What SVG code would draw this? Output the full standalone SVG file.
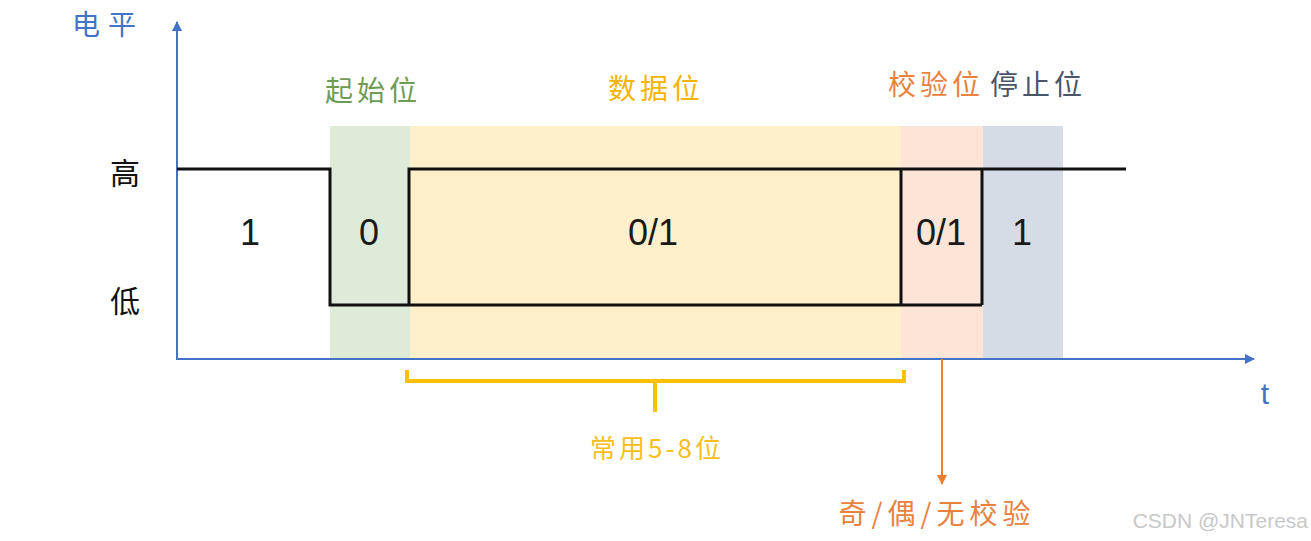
<svg xmlns="http://www.w3.org/2000/svg" width="1311" height="541" viewBox="0 0 1311 541">
<defs>
<style>
.cjk{font-family:"Noto Sans CJK SC","Noto Sans",sans-serif;}
.num{font-family:"Liberation Sans",Arial,sans-serif;font-size:36px;fill:#1a1a1a;text-anchor:middle;}
.wave{fill:none;stroke:#111;stroke-width:3;}
.ttl{font-size:28px;text-anchor:middle;letter-spacing:4px;}
</style>
<marker id="ab" viewBox="0 0 10 10" refX="9" refY="5" markerWidth="5" markerHeight="5" orient="auto"><path d="M0,0 L10,5 L0,10 z" fill="#4472C4"/></marker>
<marker id="ao" viewBox="0 0 10 10" refX="9" refY="5" markerWidth="5" markerHeight="5" orient="auto"><path d="M0,0 L10,5 L0,10 z" fill="#ED7D31"/></marker>
</defs>
<rect width="1311" height="541" fill="#fff"/>
<g id="bands">
<rect x="330" y="126" width="80" height="232" fill="#DEEBD8"/>
<rect x="410" y="126" width="491" height="232" fill="#FFF0CB"/>
<rect x="901" y="126" width="82" height="232" fill="#FCE4D6"/>
<rect x="983" y="126" width="80" height="232" fill="#D6DCE5"/>
</g>
<g id="axes">
<line x1="177" y1="359" x2="177" y2="22" stroke="#4472C4" stroke-width="2" marker-end="url(#ab)"/>
<line x1="176" y1="359" x2="1254" y2="359" stroke="#4472C4" stroke-width="2" marker-end="url(#ab)"/>
<text class="cjk" x="108" y="35" font-size="28" letter-spacing="8" fill="#4472C4" text-anchor="middle">电平</text>
<text x="1265" y="404" font-family="Liberation Sans,Arial,sans-serif" font-size="30" fill="#4472C4" text-anchor="middle">t</text>
<text class="cjk" x="125" y="184" font-size="30" fill="#111" text-anchor="middle">高</text>
<text class="cjk" x="125" y="312" font-size="30" fill="#111" text-anchor="middle">低</text>
</g>
<g id="waveform">
<polyline class="wave" points="177,169 330,169 330,305 982,305"/>
<polyline class="wave" points="409,305 409,169 982,169 1126,169"/>
<line class="wave" x1="901" y1="169" x2="901" y2="305"/>
<line class="wave" x1="982" y1="169" x2="982" y2="305"/>
</g>
<g id="bits">
<text class="num" x="250" y="245">1</text>
<text class="num" x="369" y="245">0</text>
<text class="num" x="653" y="245">0/1</text>
<text class="num" x="941" y="245">0/1</text>
<text class="num" x="1022" y="245">1</text>
</g>
<g id="titles">
<text class="cjk ttl" x="373" y="101" fill="#6E9B55">起始位</text>
<text class="cjk ttl" x="656" y="99" fill="#F4B400">数据位</text>
<text class="cjk ttl" x="936" y="95" fill="#E8823E">校验位</text>
<text class="cjk ttl" x="1038" y="95" fill="#4A5568">停止位</text>
</g>
<g id="connectors">
<path d="M407,370 V381 H904 V370" fill="none" stroke="#FFC000" stroke-width="4"/>
<line x1="655" y1="381" x2="655" y2="412" stroke="#FFC000" stroke-width="4"/>
<line x1="942" y1="359" x2="942" y2="484" stroke="#ED7D31" stroke-width="2" marker-end="url(#ao)"/>
</g>
<g id="notes">
<text class="cjk" x="657" y="458" font-size="26" letter-spacing="3" fill="#F7BE1E" text-anchor="middle">常用5-8位</text>
<text class="cjk" x="937" y="524" font-size="28" letter-spacing="5" fill="#E8823E" text-anchor="middle">奇/偶/无校验</text>
<text x="1308" y="528" font-family="Liberation Sans,Arial,sans-serif" font-size="21" fill="#C8C8C8" text-anchor="end">CSDN @JNTeresa</text>
</g>
</svg>
